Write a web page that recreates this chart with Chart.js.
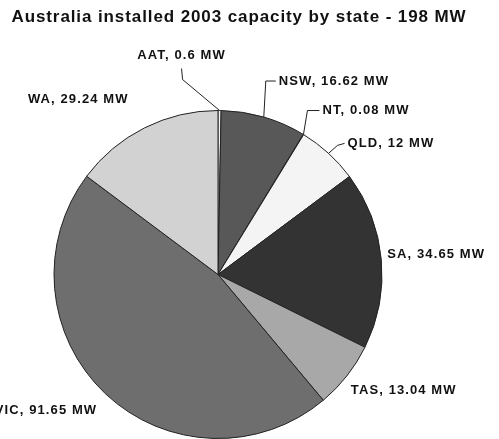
<!DOCTYPE html>
<html>
<head>
<meta charset="utf-8">
<script src="https://cdn.jsdelivr.net/npm/chart.js@4/dist/chart.umd.min.js"></script>
<style>
    html, body { margin: 0; padding: 0; background: #ffffff; }
    #wrap { width: 499px; height: 439px; position: relative; }
</style>
</head>
<body>
<div id="wrap"><canvas id="myChart" width="499" height="439"></canvas></div>
<script>
const chartTitle = 'Australia installed 2003 capacity by state - 198 MW';
const states = ['AAT', 'NSW', 'NT', 'QLD', 'SA', 'TAS', 'VIC', 'WA'];
const capacityMW = [0.6, 16.62, 0.08, 12, 34.65, 13.04, 91.65, 29.24];
const sliceColors = ['#f6f6f6', '#585858', '#e8e8e8', '#f4f4f4', '#333333', '#a8a8a8', '#6e6e6e', '#d2d2d2'];

// where each label goes, relative to the middle of its slice's outer edge
// leader: points of the leader line, text: anchor of the text
const labelLayout = {
    AAT: { leader: [[-37, -31], [-38, -42]], text: [-38, -55], align: 'center' },
    NSW: { leader: [[2, -36], [12, -36]], text: [15, -36], align: 'left' },
    NT:  { leader: [[4, -24], [16, -24]], text: [19, -24], align: 'left' },
    QLD: { leader: [[9, -8], [16, -10]], text: [19, -10], align: 'left' },
    SA:  { text: [6, -5], align: 'left' },
    TAS: { text: [4, 14], align: 'left' },
    VIC: { text: [-8, 17], align: 'right' },
    WA:  { text: [-16, -28], align: 'right' }
};

const pieLabels = {
    id: 'pieLabels',
    afterDraw(chart) {
        const ctx = chart.ctx;
        const meta = chart.getDatasetMeta(0);

        ctx.save();
        ctx.fillStyle = '#111111';
        ctx.font = 'bold 17px "Liberation Sans", Arial, sans-serif';
        ctx.letterSpacing = '0.9px';
        ctx.textAlign = 'center';
        ctx.textBaseline = 'middle';
        ctx.fillText(chartTitle, 239, 17);

        ctx.font = 'bold 13px "Liberation Sans", Arial, sans-serif';
        ctx.letterSpacing = '1.1px';
        ctx.strokeStyle = '#222222';
        ctx.lineWidth = 1;

        meta.data.forEach((arc, i) => {
            const p = arc.getProps(['x', 'y', 'startAngle', 'endAngle', 'outerRadius'], true);
            const mid = (p.startAngle + p.endAngle) / 2;
            const ex = p.x + Math.cos(mid) * p.outerRadius;
            const ey = p.y + Math.sin(mid) * p.outerRadius;
            const lay = labelLayout[states[i]];

            if (lay.leader) {
                ctx.beginPath();
                ctx.moveTo(ex, ey);
                lay.leader.forEach(pt => ctx.lineTo(ex + pt[0], ey + pt[1]));
                ctx.stroke();
            }
            ctx.textAlign = lay.align;
            ctx.fillText(states[i] + ', ' + capacityMW[i] + ' MW', ex + lay.text[0], ey + lay.text[1]);
        });
        ctx.restore();
    }
};

new Chart(document.getElementById('myChart'), {
    type: 'pie',
    data: {
        labels: states,
        datasets: [{
            data: capacityMW,
            backgroundColor: sliceColors,
            borderColor: '#222222',
            borderWidth: 1
        }]
    },
    options: {
        responsive: false,
        animation: false,
        layout: { padding: { top: 110, left: 53, right: 116, bottom: 0 } },
        plugins: {
            legend: { display: false },
            tooltip: { enabled: false }
        }
    },
    plugins: [pieLabels]
});
</script>
</body>
</html>
